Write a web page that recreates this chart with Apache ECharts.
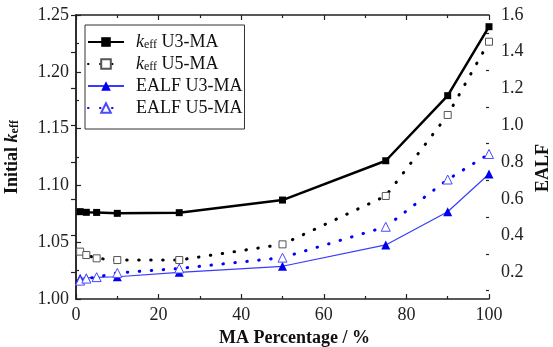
<!DOCTYPE html>
<html>
<head>
<meta charset="utf-8">
<script src="https://cdn.jsdelivr.net/npm/echarts@6/dist/echarts.min.js"></script>
<style>html,body{margin:0;padding:0;background:#fff}#c{width:553px;height:347px}</style>
</head>
<body>
<div id="c"></div>
<script>
const maPct = [1, 2.5, 5, 10, 25, 50, 75, 90, 100];
const keffU3 = [1.0769, 1.0763, 1.0762, 1.0754, 1.0760, 1.0871, 1.1217, 1.1790, 1.2397];
const keffU5 = [1.0417, 1.0387, 1.0358, 1.0343, 1.0343, 1.0481, 1.0907, 1.1620, 1.2265];
const ealfU3 = [0.168, 0.170, 0.173, 0.176, 0.200, 0.233, 0.349, 0.530, 0.735];
const ealfU5 = [0.155, 0.166, 0.174, 0.197, 0.221, 0.280, 0.448, 0.705, 0.844];
const rightLabels = [0.2, 0.4, 0.6, 0.8, 1.0, 1.2, 1.4, 1.6];
const rightMinor = [0.1, 0.3, 0.5, 0.7, 0.9, 1.1, 1.3, 1.5];
const legendNames = ['keff U3-MA', 'keff U5-MA', 'EALF U3-MA', 'EALF U5-MA'];

const F = 'Liberation Serif, Times New Roman, serif';
const pairs = a => maPct.map((x, i) => [x, a[i]]);
const axisLine = {show: true, lineStyle: {color: '#222', width: 1.5}};

const chart = echarts.init(document.getElementById('c'));
chart.setOption({
  animation: false,
  grid: {left: 76, right: 64, top: 15, bottom: 48, outerBoundsMode: 'none'},
  legend: {
    orient: 'vertical', left: 85, top: 25,
    itemWidth: 36, itemHeight: 12, itemGap: 4,
    padding: [8, 2, 12, 2],
    borderColor: '#333', borderWidth: 1,
    data: legendNames,
    formatter: n => n.startsWith('keff') ? '{i|k}{s|eff}' + n.slice(4) : n,
    textStyle: {
      fontFamily: F, fontSize: 18, color: '#111', padding: [0, 0, 0, 7], lineHeight: 18,
      rich: {
        i: {fontFamily: F, fontSize: 18, fontStyle: 'italic', color: '#111', lineHeight: 18},
        s: {fontFamily: F, fontSize: 12, color: '#111', verticalAlign: 'bottom', lineHeight: 12}
      }
    }
  },
  xAxis: [{
    type: 'value', min: 0, max: 100, interval: 20,
    axisLine, splitLine: {show: false},
    axisTick: {inside: true, length: 5, lineStyle: {color: '#222', width: 1.2}},
    minorTick: {show: true, splitNumber: 2, length: 3, lineStyle: {color: '#222', width: 1.2}},
    axisLabel: {fontFamily: F, fontSize: 18, color: '#222', margin: 7},
    name: 'MA Percentage / %', nameLocation: 'middle', nameGap: 27,
    nameTextStyle: {fontFamily: F, fontSize: 18, fontWeight: 'bold', color: '#111', padding: [0, 0, 0, 24]}
  }, {
    type: 'value', min: 0, max: 100, interval: 20, position: 'top',
    axisLine, splitLine: {show: false}, axisLabel: {show: false},
    axisTick: {inside: true, length: 5, lineStyle: {color: '#222', width: 1.2}},
    minorTick: {show: true, splitNumber: 2, length: 3, lineStyle: {color: '#222', width: 1.2}}
  }],
  yAxis: [{
    type: 'value', min: 1.0, max: 1.25, interval: 0.05, position: 'left',
    axisLine, splitLine: {show: false},
    axisTick: {inside: true, length: 5, lineStyle: {color: '#222', width: 1.2}},
    minorTick: {show: true, splitNumber: 2, length: 3, lineStyle: {color: '#222', width: 1.2}},
    axisLabel: {fontFamily: F, fontSize: 18, color: '#222', margin: 7, formatter: v => v.toFixed(2)},
    name: '{b|Initial }{bi|k}{s|eff}', nameLocation: 'middle', nameGap: 55, nameRotate: 90,
    nameTextStyle: {
      rich: {
        b: {fontFamily: F, fontSize: 18, fontWeight: 'bold', color: '#111', lineHeight: 18},
        bi: {fontFamily: F, fontSize: 18, fontWeight: 'bold', fontStyle: 'italic', color: '#111', lineHeight: 18},
        s: {fontFamily: F, fontSize: 12, fontWeight: 'bold', color: '#111', verticalAlign: 'bottom', lineHeight: 12}
      }
    }
  }, {
    type: 'value', min: 0.055, max: 1.6, position: 'right',
    axisLine, splitLine: {show: false},
    axisTick: {inside: true, length: 5, customValues: rightLabels, lineStyle: {color: '#222', width: 1.2}},
    axisLabel: {fontFamily: F, fontSize: 18, color: '#222', margin: 12, customValues: rightLabels, formatter: v => v.toFixed(1)},
    name: 'EALF', nameLocation: 'middle', nameGap: 38, nameRotate: 90,
    nameTextStyle: {fontFamily: F, fontSize: 18, fontWeight: 'bold', color: '#111', padding: [0, 22, 0, 0]}
  }, {
    type: 'value', min: 0.055, max: 1.6, position: 'right',
    axisLine: {show: false}, splitLine: {show: false},
    axisTick: {inside: true, length: 3, customValues: rightMinor, lineStyle: {color: '#222', width: 1.2}},
    axisLabel: {show: false}
  }],
  series: [{
    name: 'keff U3-MA', type: 'line', xAxisIndex: 0, yAxisIndex: 0, data: pairs(keffU3),
    symbol: 'rect', symbolSize: 7, z: 5,
    lineStyle: {color: '#000', width: 2.5}, itemStyle: {color: '#000'}
  }, {
    name: 'keff U5-MA', type: 'line', xAxisIndex: 0, yAxisIndex: 0, data: pairs(keffU5),
    symbol: 'rect', symbolSize: 7, z: 4,
    lineStyle: {color: '#000', width: 3, type: [0.5, 11.5], cap: 'round'},
    itemStyle: {color: '#fff', borderColor: '#555', borderWidth: 1}
  }, {
    name: 'EALF U3-MA', type: 'line', xAxisIndex: 0, yAxisIndex: 1, data: pairs(ealfU3),
    symbol: 'triangle', symbolSize: 9, z: 3,
    lineStyle: {color: '#3a3aff', width: 1.2}, itemStyle: {color: '#0000ee'}
  }, {
    name: 'EALF U5-MA', type: 'line', xAxisIndex: 0, yAxisIndex: 1, data: pairs(ealfU5),
    symbol: 'triangle', symbolSize: 9, z: 4,
    lineStyle: {color: '#0000ff', width: 3, type: [0.5, 11.5], cap: 'round'},
    itemStyle: {color: '#fff', borderColor: '#4a4aff', borderWidth: 1}
  }]
});
</script>
</body>
</html>
